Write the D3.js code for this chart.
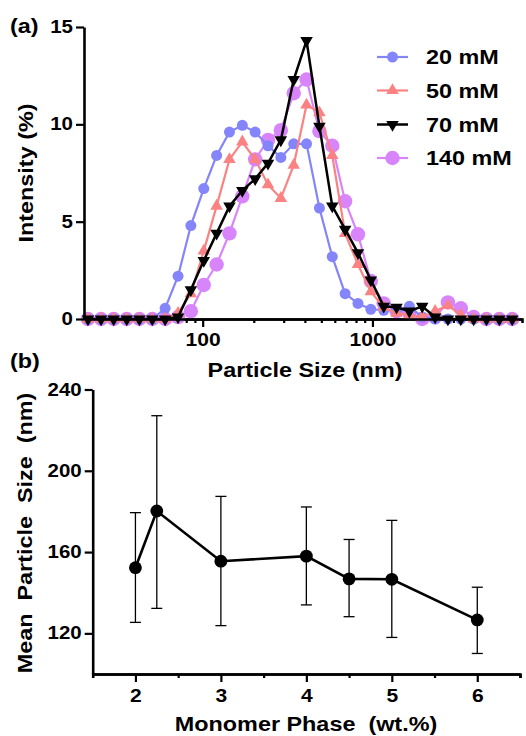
<!DOCTYPE html>
<html>
<head>
<meta charset="utf-8">
<script src="https://cdn.jsdelivr.net/npm/d3@7"></script>
<style>
  body { margin: 0; background: #fff; }
  svg text { font-family: "Liberation Sans", Arial, sans-serif; font-weight: bold; fill: #000; }
</style>
</head>
<body>
<svg id="chart" width="526" height="736"></svg>
<script>
// (a) size distribution bins (nm) and intensities (%)
const sizes = [21.1, 25.2, 29.9, 35.7, 42.4, 50.5, 60.1, 71.6, 85.2, 101.5, 120.8, 143.8, 171.2, 203.8,
  242.5, 288.7, 343.8, 409.1, 487.1, 579.9, 690.2, 821.6, 978, 1165, 1386, 1650, 1964, 2338, 2783,
  3314, 3945, 4696, 5590, 6655];
const int20 = [0, 0, 0, 0, 0, 0, 0.55, 2.2, 4.8, 6.7, 8.4, 9.6, 9.95, 9.6, 8.9, 8.3, 9.0, 9.0, 5.7, 3.2,
  1.3, 0.8, 0.5, 0.45, 0.45, 0.65, 0.1, 0, 0, 0, 0, 0, 0, 0];
const int50 = [0, 0, 0, 0, 0, 0, 0, 0.3, 1.3, 3.5, 5.8, 8.2, 9.1, 8.2, 6.9, 6.2, 7.9, 11.0, 10.6, 8.4,
  4.4, 2.8, 1.4, 0.6, 0.3, 0.2, 0.1, 0.4, 0.7, 0.2, 0, 0, 0, 0];
const int70 = [0, 0, 0, 0, 0, 0, 0, 0.1, 1.5, 3.0, 4.4, 5.8, 6.6, 7.2, 8.0, 9.2, 12.3, 14.3, 9.9, 5.8,
  4.6, 3.4, 2.0, 0.65, 0.6, 0.4, 0.65, 0.1, 0, 0, 0, 0, 0, 0];
const int140 = [0, 0, 0, 0, 0, 0, 0, 0.1, 0.4, 1.75, 2.8, 4.4, 6.3, 8.2, 9.2, 9.7, 11.6, 12.3, 9.65, 8.9,
  6.05, 4.35, 1.95, 0.8, 0.4, 0.3, 0, 0.1, 0.85, 0.55, 0.1, 0, 0, 0];
const seriesNames = ['20 mM', '50 mM', '70 mM', '140 mM'];
const xTicksA = [100, 1000];
const yTicksA = [0, 5, 10, 15];

// (b) mean particle size vs monomer phase
const monomer = [2, 2.25, 3, 4, 4.5, 5, 6];
const meanSize = [152.3, 180.2, 155.5, 158.0, 146.8, 146.6, 126.6];
const sizeLow = [125.4, 132.3, 123.8, 134.0, 128.2, 118.0, 110.1];
const sizeHigh = [179.4, 227.1, 187.4, 182.2, 166.2, 175.6, 142.7];
const xTicksB = [2, 3, 4, 5, 6];
const yTicksB = [120, 160, 200, 240];

const SX = 1.17; // text in the figure is stretched horizontally

const svg = d3.select('#chart');

// move x/y into a transform so text can be widened around its anchor
function widen(sel, rot) {
  sel.each(function () {
    const t = d3.select(this);
    const x = +t.attr('x') || 0;
    const y = +t.attr('y') || 0;
    t.attr('x', 0).attr('y', 0)
      .attr('transform', `translate(${x},${y})${rot ? ' rotate(' + rot + ')' : ''} scale(${SX},1)`);
  });
}

function styleAxis(g, fontSize) {
  g.select('.domain').attr('stroke', '#000').attr('stroke-width', 2.6);
  g.selectAll('.tick line').attr('stroke', '#000').attr('stroke-width', 2.2);
  g.selectAll('.tick text').style('font-size', fontSize + 'px').attr('fill', '#000');
  widen(g.selectAll('.tick text'));
}

// ---------- panel (a) ----------
const xA = d3.scaleLog().domain([20, 7600]).range([84, 522]);
const yA = d3.scaleLinear().domain([0, 15]).range([319, 27]);

const series = [
  { name: seriesNames[3], vals: int140, color: '#d884fb', shape: 'bigcircle' },
  { name: seriesNames[0], vals: int20, color: '#8585fb', shape: 'circle' },
  { name: seriesNames[1], vals: int50, color: '#fb8282', shape: 'up' },
  { name: seriesNames[2], vals: int70, color: '#000000', shape: 'down' }
];

function marker(g, shape, color) {
  if (shape === 'circle' || shape === 'bigcircle') {
    g.append('circle').attr('r', shape === 'circle' ? 5.5 : 7.2).attr('fill', color);
  } else {
    g.append('path')
      .attr('d', d3.symbol().type(d3.symbolTriangle).size(68)())
      .attr('transform', shape === 'down' ? 'rotate(180)' : null)
      .attr('fill', color);
  }
}

const minorA = [];
[10, 100, 1000].forEach(dec => {
  for (let k = 2; k <= 9; k++) {
    const v = k * dec;
    if (v > 20 && v < 7600) minorA.push(v);
  }
});

svg.append('g')
  .attr('transform', 'translate(0,319)')
  .call(d3.axisBottom(xA).tickValues(minorA).tickSize(4).tickFormat(''))
  .call(g => styleAxis(g, 18));

const line = d3.line()
  .x((d, i) => xA(sizes[i]))
  .y(d => yA(d));

series.forEach(s => {
  const g = svg.append('g');
  g.append('path')
    .datum(s.vals)
    .attr('d', line)
    .attr('fill', 'none')
    .attr('stroke', s.color)
    .attr('stroke-width', s.shape === 'down' ? 2.5 : 2.2);
  s.vals.forEach((v, i) => {
    const m = g.append('g').attr('transform', `translate(${xA(sizes[i])},${yA(v)})`);
    marker(m, s.shape, s.color);
  });
});

svg.append('g')
  .attr('transform', 'translate(0,319)')
  .call(d3.axisBottom(xA).tickValues(xTicksA).tickSize(8).tickSizeOuter(0).tickPadding(6).tickFormat(d3.format('d')))
  .call(g => styleAxis(g, 18));

svg.append('g')
  .attr('transform', 'translate(84,0)')
  .call(d3.axisLeft(yA).tickValues(yTicksA).tickSize(8).tickSizeOuter(0).tickPadding(3))
  .call(g => styleAxis(g, 17.5));

// legend
const legendY = [57, 90.5, 124.5, 158];
[1, 2, 3, 0].forEach((si, row) => {
  const s = series[si];
  const g = svg.append('g').attr('transform', `translate(0,${legendY[row]})`);
  g.append('line').attr('x1', 377).attr('x2', 408)
    .attr('stroke', s.color).attr('stroke-width', s.shape === 'down' ? 2.5 : 2.2);
  const m = g.append('g').attr('transform', 'translate(392.5,0)');
  marker(m, s.shape, s.color);
  g.append('text').attr('x', 426).attr('y', 0).attr('dy', '0.36em')
    .style('font-size', '20px').text(s.name)
    .call(widen);
});

svg.append('text').attr('x', 10).attr('y', 33).style('font-size', '20px').text('(a)').call(widen);
svg.append('text').attr('x', 33).attr('y', 173).attr('text-anchor', 'middle')
  .style('font-size', '20px').text('Intensity (%)').call(t => widen(t, -90));
svg.append('text').attr('x', 305).attr('y', 377).attr('text-anchor', 'middle')
  .style('font-size', '20px').text('Particle Size (nm)').call(widen);

// ---------- panel (b) ----------
const xB = d3.scaleLinear().domain([1.5, 6.5]).range([92.7, 520]);
const yB = d3.scaleLinear().domain([100, 240]).range([674, 389.5]);

svg.append('g')
  .attr('transform', 'translate(0,674)')
  .call(d3.axisBottom(xB).tickValues([2.5, 3.5, 4.5, 5.5, 6.5]).tickSize(4).tickFormat(''))
  .call(g => styleAxis(g, 18));
svg.append('g')
  .attr('transform', 'translate(0,674)')
  .call(d3.axisBottom(xB).tickValues(xTicksB).tickSize(8).tickSizeOuter(0).tickPadding(7).tickFormat(d3.format('d')))
  .call(g => styleAxis(g, 18));
svg.append('g')
  .attr('transform', 'translate(92.7,0)')
  .call(d3.axisLeft(yB).tickValues(yTicksB).tickSize(8).tickSizeOuter(0).tickPadding(3))
  .call(g => styleAxis(g, 17.5));

const bIdx = d3.range(monomer.length);
const errG = svg.append('g').attr('stroke', '#000').attr('stroke-width', 1.3);
bIdx.forEach(i => {
  const x = xB(monomer[i]);
  errG.append('line').attr('x1', x).attr('x2', x).attr('y1', yB(sizeLow[i])).attr('y2', yB(sizeHigh[i]));
  errG.append('line').attr('x1', x - 5.5).attr('x2', x + 5.5).attr('y1', yB(sizeLow[i])).attr('y2', yB(sizeLow[i]));
  errG.append('line').attr('x1', x - 5.5).attr('x2', x + 5.5).attr('y1', yB(sizeHigh[i])).attr('y2', yB(sizeHigh[i]));
});

svg.append('path')
  .datum(bIdx)
  .attr('d', d3.line().x(i => xB(monomer[i])).y(i => yB(meanSize[i])))
  .attr('fill', 'none').attr('stroke', '#000').attr('stroke-width', 2.6);

svg.append('g').selectAll('circle')
  .data(bIdx)
  .join('circle')
  .attr('cx', i => xB(monomer[i]))
  .attr('cy', i => yB(meanSize[i]))
  .attr('r', 6.4)
  .attr('fill', '#000');

svg.append('text').attr('x', 10).attr('y', 368).style('font-size', '20px').text('(b)').call(widen);
svg.append('text').attr('x', 32).attr('y', 533).attr('text-anchor', 'middle')
  .style('font-size', '20px').style('white-space', 'pre').attr('xml:space', 'preserve')
  .text('Mean  Particle  Size  (nm)').call(t => widen(t, -90));
svg.append('text').attr('x', 306).attr('y', 731).attr('text-anchor', 'middle')
  .style('font-size', '20px').style('white-space', 'pre').attr('xml:space', 'preserve')
  .text('Monomer Phase  (wt.%)').call(widen);
</script>
</body>
</html>
